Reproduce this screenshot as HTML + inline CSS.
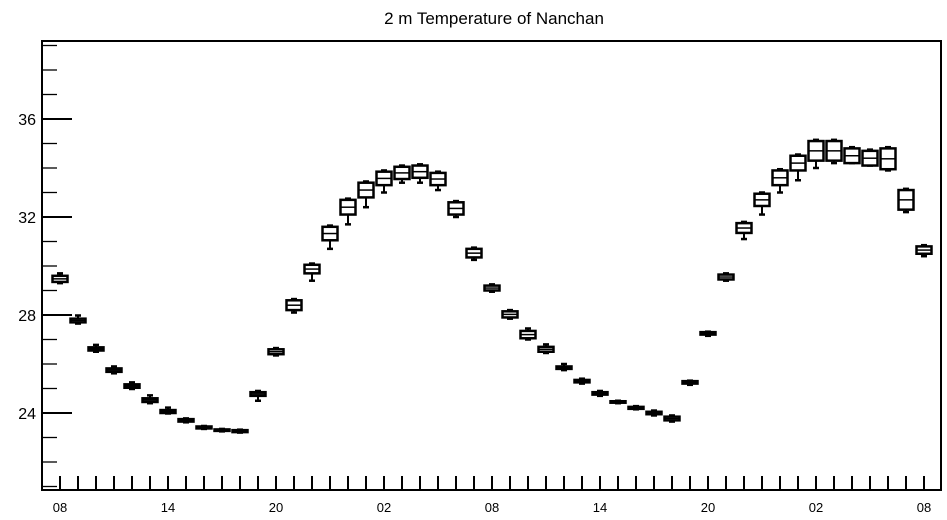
<!DOCTYPE html>
<html><head><meta charset="utf-8"><style>body{margin:0;background:#fff}svg{display:block;font-family:"Liberation Sans",sans-serif}</style></head>
<body>
<svg id="chart" width="947" height="520">
<text x="494" y="24" text-anchor="middle" font-size="17">2 m Temperature of Nanchan</text>
<rect x="42" y="41" width="899" height="449" fill="none" stroke="#000" stroke-width="2"/>
<g id="axes"></g><g id="boxes"></g>
</svg>
<script>
const hourLabels=["08","14","20","02","08","14","20","02","08"];
const yTicks=[24,28,32,36];
const boxLow=[29.35,27.7,26.55,25.68,25.03,24.45,24.0,23.65,23.37,23.27,23.22,24.7,26.4,28.2,29.7,31.05,32.1,32.8,33.3,33.55,33.6,33.3,32.1,30.35,29.0,27.9,27.05,26.5,25.8,25.25,24.75,24.42,24.17,23.95,23.7,25.2,27.2,29.45,31.35,32.45,33.3,33.9,34.3,34.3,34.2,34.1,33.95,32.3,30.5];
const boxHigh=[29.6,27.85,26.68,25.82,25.17,24.6,24.12,23.75,23.45,23.33,23.3,24.85,26.6,28.6,30.05,31.6,32.7,33.4,33.85,34.05,34.1,33.8,32.6,30.7,29.2,28.15,27.35,26.7,25.9,25.35,24.85,24.48,24.25,24.05,23.85,25.3,27.3,29.65,31.75,32.95,33.9,34.5,35.1,35.1,34.8,34.7,34.8,33.1,30.8];
const whiskLow=[29.3,27.65,26.5,25.62,24.98,24.4,23.98,23.62,23.35,23.25,23.2,24.5,26.35,28.1,29.4,30.7,31.7,32.4,33.0,33.4,33.4,33.1,32.0,30.25,28.95,27.85,27.0,26.45,25.75,25.2,24.7,24.4,24.15,23.9,23.65,25.15,27.15,29.4,31.1,32.1,33.0,33.5,34.0,34.2,34.2,34.1,33.9,32.2,30.4];
const whiskHigh=[29.7,27.98,26.78,25.9,25.25,24.72,24.22,23.78,23.47,23.35,23.32,24.9,26.65,28.65,30.1,31.65,32.75,33.45,33.9,34.1,34.15,33.85,32.65,30.75,29.25,28.2,27.45,26.8,26.0,25.4,24.9,24.5,24.28,24.1,23.9,25.32,27.32,29.7,31.8,33.0,33.95,34.55,35.15,35.15,34.85,34.75,34.85,33.15,30.85];
const medians=boxLow.map((l,i)=>(l+boxHigh[i])/2);
const yv=v=>413-(v-24)*24.5;
const xh=h=>60+18*h;
const NS="http://www.w3.org/2000/svg";
function mk(t,a,p){const e=document.createElementNS(NS,t);for(const k in a)e.setAttribute(k,a[k]);p.appendChild(e);return e;}
const ax=document.getElementById('axes');
for(let v=21;v<=39;v++){const t=mk('line',{x1:42,x2:yTicks.includes(v)?72:57,y1:yv(v),y2:yv(v),stroke:'#000','stroke-width':yTicks.includes(v)?2:1.3},ax);

}
yTicks.forEach(v=>{const t=mk('text',{x:36,y:yv(v)+6,'text-anchor':'end','font-size':16},ax);t.textContent=v;

});
for(let h=0;h<=48;h++){const t=mk('line',{x1:xh(h),x2:xh(h),y1:490,y2:476,stroke:'#000','stroke-width':2},ax);

}
hourLabels.forEach((l,i)=>{const t=mk('text',{x:xh(i*6),y:512,'text-anchor':'middle','font-size':13},ax);t.textContent=l;

});
const bx=document.getElementById('boxes');
boxLow.forEach((lo,i)=>{const g=mk('g',{},bx);


const x=xh(i);
mk('line',{x1:x,x2:x,y1:yv(whiskLow[i]),y2:yv(whiskHigh[i]),stroke:'#000','stroke-width':2},g);
mk('line',{x1:x-3,x2:x+3,y1:yv(whiskLow[i]),y2:yv(whiskLow[i]),stroke:'#000','stroke-width':2.5},g);
mk('line',{x1:x-3,x2:x+3,y1:yv(whiskHigh[i]),y2:yv(whiskHigh[i]),stroke:'#000','stroke-width':2.5},g);
const top=yv(boxHigh[i]),bot=yv(lo);
mk('rect',{x:x-7.5,y:top,width:15,height:Math.max(bot-top,1),fill:'#fff',stroke:'#000','stroke-width':2.5},g);
mk('line',{x1:x-7.5,x2:x+7.5,y1:yv(medians[i]),y2:yv(medians[i]),stroke:'#000','stroke-width':1.5},g);
});
</script>
</body></html>
